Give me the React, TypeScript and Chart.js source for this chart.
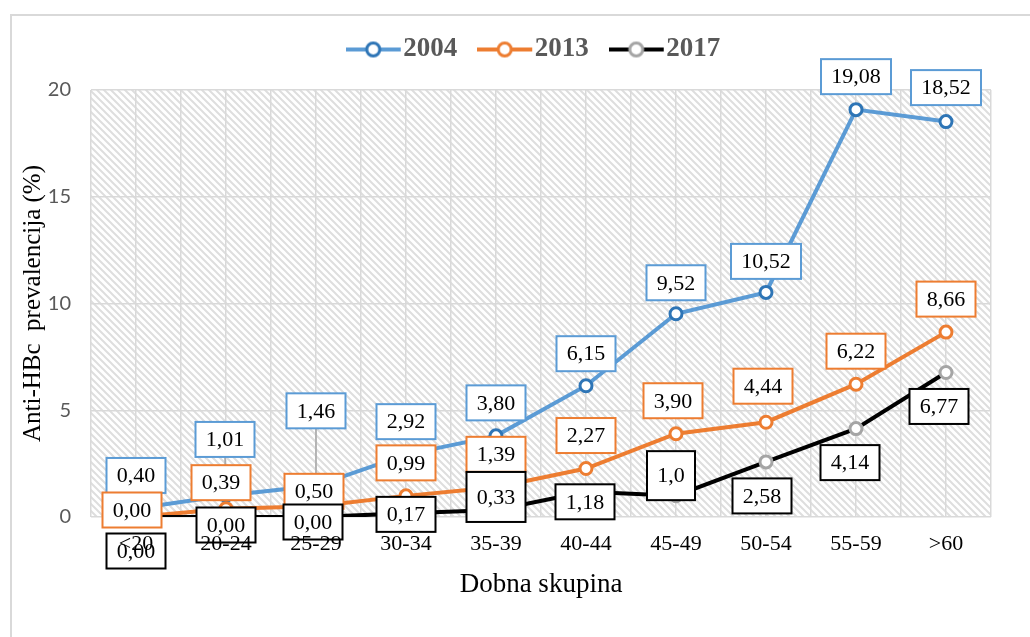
import React, { useEffect, useRef } from 'react';
import { Chart, registerables } from 'chart.js';

Chart.register(...registerables);

const SERIF = '"Liberation Serif", "Times New Roman", serif';
const SANS = 'Lato, "Noto Sans", sans-serif';

// ---- data ----
const categories = ['<20', '20-24', '25-29', '30-34', '35-39', '40-44', '45-49', '50-54', '55-59', '>60'];
const seriesNames = ['2004', '2013', '2017'];
const values2004 = [0.4, 1.01, 1.46, 2.92, 3.8, 6.15, 9.52, 10.52, 19.08, 18.52];
const values2013 = [0.0, 0.39, 0.5, 0.99, 1.39, 2.27, 3.9, 4.44, 6.22, 8.66];
const values2017 = [0.0, 0.0, 0.0, 0.17, 0.33, 1.18, 1.0, 2.58, 4.14, 6.77];
const labels2004 = ['0,40', '1,01', '1,46', '2,92', '3,80', '6,15', '9,52', '10,52', '19,08', '18,52'];
const labels2013 = ['0,00', '0,39', '0,50', '0,99', '1,39', '2,27', '3,90', '4,44', '6,22', '8,66'];
const labels2017 = ['0,00', '0,00', '0,00', '0,17', '0,33', '1,18', '1,0', '2,58', '4,14', '6,77'];
const yTickValues = [0, 5, 10, 15, 20];

// ---- label placement (pixel offsets of the label box centre from its point) ----
const dx2004 = [0, -1, 0, 0, 0, 0, 0, 0, 0, 0];
const dy2004 = [-33, -56, -75, -33, -33, -32, -31, -31, -33, -34];
const leader2004 = [false, true, true, false, false, false, false, false, false, false];
const dx2013 = [-4, -5, -2, 0, 0, 0, -3, -3, 0, 0];
const dy2013 = [-7, -26, -15, -33, -33, -33, -33, -36, -33, -33];
const dx2017 = [0, 0, -3, 0, 0, -1, -5, -4, -6, -7];
const dy2017 = [34, 8, 5, 1, -13, 10, -20, 34, 34, 34];
const boxH2017 = [35, 35, 35, 35, 50, 35, 49, 35, 35, 35];

const BLUE = '#5b9bd5';
const BLUE_DARK = '#2e75b6';
const ORANGE = '#ed7d31';
const BLACK = '#000000';
const GREY_MARK = '#a5a5a5';
const GRID = '#d9d9d9';

export default function App() {
  const ref = useRef<HTMLCanvasElement>(null);

  useEffect(() => {
    const canvas = ref.current!;

    const mkLegendImg = (line: string, marker: string) => {
      const c = document.createElement('canvas');
      c.width = 60;
      c.height = 18;
      const g = c.getContext('2d')!;
      g.strokeStyle = line;
      g.lineWidth = 4;
      g.beginPath();
      g.moveTo(0, 9);
      g.lineTo(55, 9);
      g.stroke();
      g.beginPath();
      g.arc(27.5, 9, 6.5, 0, Math.PI * 2);
      g.fillStyle = '#ffffff';
      g.fill();
      g.lineWidth = 3;
      g.strokeStyle = marker;
      g.stroke();
      return c;
    };
    const legendImgs = [mkLegendImg(BLUE, BLUE_DARK), mkLegendImg(ORANGE, ORANGE), mkLegendImg(BLACK, GREY_MARK)];

    // hatch pattern (wide downward diagonal)
    const T = 7;
    const tile = document.createElement('canvas');
    tile.width = T;
    tile.height = T;
    const tg = tile.getContext('2d')!;
    tg.fillStyle = '#ffffff';
    tg.fillRect(0, 0, T, T);
    tg.strokeStyle = '#dedede';
    tg.lineWidth = 2;
    tg.beginPath();
    tg.moveTo(-2, -2);
    tg.lineTo(T + 2, T + 2);
    tg.moveTo(-2, T - 2);
    tg.lineTo(2, T + 2);
    tg.moveTo(T - 2, -2);
    tg.lineTo(T + 2, 2);
    tg.stroke();

    const hatchPlugin = {
      id: 'hatch',
      beforeDraw(chart: any) {
        const { ctx, chartArea } = chart;
        const pat = ctx.createPattern(tile, 'repeat');
        ctx.save();
        ctx.fillStyle = pat;
        ctx.fillRect(chartArea.left, chartArea.top, chartArea.right - chartArea.left, chartArea.bottom - chartArea.top);
        ctx.restore();
      },
    };

    const labelSets = [
      { text: labels2004, dx: dx2004, dy: dy2004, leader: leader2004, border: BLUE, h: null as number[] | null },
      { text: labels2013, dx: dx2013, dy: dy2013, leader: null as boolean[] | null, border: ORANGE, h: null as number[] | null },
      { text: labels2017, dx: dx2017, dy: dy2017, leader: null as boolean[] | null, border: BLACK, h: boxH2017 },
    ];

    const labelPlugin = {
      id: 'boxLabels',
      afterDatasetsDraw(chart: any) {
        const ctx = chart.ctx as CanvasRenderingContext2D;
        ctx.save();
        ctx.font = `22px ${SERIF}`;
        ctx.textAlign = 'center';
        ctx.textBaseline = 'middle';
        labelSets.forEach((set, di) => {
          const meta = chart.getDatasetMeta(di);
          meta.data.forEach((pt: any, i: number) => {
            const x = pt.x;
            const y = pt.y;
            const cx = x + set.dx[i];
            const cy = y + set.dy[i];
            const text = set.text[i];
            const w = Math.round(ctx.measureText(text).width + 20);
            const h = set.h ? set.h[i] : 35;
            if (set.leader && set.leader[i]) {
              ctx.strokeStyle = '#a6a6a6';
              ctx.lineWidth = 1.5;
              ctx.beginPath();
              ctx.moveTo(cx, cy + h / 2);
              ctx.lineTo(x, y);
              ctx.stroke();
            }
            ctx.fillStyle = '#ffffff';
            ctx.fillRect(cx - w / 2, cy - h / 2, w, h);
            ctx.lineWidth = 2;
            ctx.strokeStyle = set.border;
            ctx.strokeRect(cx - w / 2, cy - h / 2, w, h);
            ctx.fillStyle = '#000000';
            ctx.fillText(text, cx, cy + 1);
          });
        });
        ctx.restore();
      },
    };

    const chart = new Chart(canvas, {
      type: 'line',
      data: {
        labels: categories,
        datasets: [
          {
            label: seriesNames[0],
            data: values2004,
            borderColor: BLUE,
            borderWidth: 4,
            pointRadius: 6,
            pointBorderWidth: 3,
            pointBorderColor: BLUE_DARK,
            pointBackgroundColor: '#ffffff',
            tension: 0,
            order: 2,
          },
          {
            label: seriesNames[1],
            data: values2013,
            borderColor: ORANGE,
            borderWidth: 4,
            pointRadius: 6,
            pointBorderWidth: 3,
            pointBorderColor: ORANGE,
            pointBackgroundColor: '#ffffff',
            tension: 0,
            order: 1,
          },
          {
            label: seriesNames[2],
            data: values2017,
            borderColor: BLACK,
            borderWidth: 4,
            pointRadius: 6,
            pointBorderWidth: 3,
            pointBorderColor: GREY_MARK,
            pointBackgroundColor: '#ffffff',
            tension: 0,
            order: 0,
          },
        ],
      },
      options: {
        responsive: false,
        animation: false,
        devicePixelRatio: 1,
        events: [],
        layout: { padding: { left: 0, right: 39, top: 0, bottom: 0 } },
        plugins: {
          tooltip: { enabled: false },
          legend: {
            display: true,
            position: 'top',
            fullSize: false,
            labels: {
              usePointStyle: true,
              pointStyleWidth: 28,
              padding: 36,
              color: '#595959',
              font: { family: SERIF, size: 27, weight: 'bold' },
              sort: (a: any, b: any) => a.datasetIndex - b.datasetIndex,
              generateLabels: (ch: any) =>
                (Chart.defaults.plugins.legend.labels as any)
                  .generateLabels(ch)
                  .map((l: any) => ({ ...l, pointStyle: legendImgs[l.datasetIndex] })),
            },
          },
        },
        scales: {
          x: {
            type: 'category',
            position: 'bottom',
            offset: true,
            grid: { display: true, offset: false, color: GRID, lineWidth: 1.5, drawTicks: false },
            border: { display: false },
            ticks: {
              color: '#000000',
              font: { family: SERIF, size: 22 },
              padding: 14,
              maxRotation: 0,
              autoSkip: false,
              z: 1,
            },
            title: {
              display: true,
              text: 'Dobna skupina',
              color: '#000000',
              font: { family: SERIF, size: 27 },
              padding: { top: 0, bottom: 36 },
            },
            afterFit: (s: any) => {
              s.height = 120;
            },
          },
          x2: {
            type: 'category',
            position: 'top',
            labels: categories,
            offset: true,
            grid: { display: true, offset: true, color: GRID, lineWidth: 1.5, drawTicks: false },
            border: { display: false },
            ticks: { display: false },
            afterFit: (s: any) => {
              s.height = 17;
            },
          },
          y: {
            type: 'linear',
            min: 0,
            max: 20,
            afterBuildTicks: (s: any) => {
              s.ticks = yTickValues.map((v) => ({ value: v }));
            },
            grid: { color: GRID, lineWidth: 1.5, drawTicks: false },
            border: { display: false },
            ticks: {
              color: '#595959',
              font: { family: SANS, size: 20 },
              padding: 20,
            },
            title: {
              display: true,
              text: 'Anti-HBc  prevalencija (%)',
              color: '#000000',
              font: { family: SERIF, size: 25 },
              padding: { top: 18, bottom: 0 },
            },
            afterFit: (s: any) => {
              s.width = 91;
            },
          },
        },
      } as any,
      plugins: [hatchPlugin, labelPlugin],
    });

    return () => chart.destroy();
  }, []);

  return (
    <div style={{ position: 'fixed', left: 0, top: 0, width: 1030, height: 637, overflow: 'hidden', background: '#ffffff' }}>
      <div
        style={{
          position: 'absolute',
          left: 10,
          top: 14,
          width: 1040,
          height: 650,
          border: '2px solid #d9d9d9',
          boxSizing: 'border-box',
        }}
      />
      <canvas ref={ref} width={1030} height={637} style={{ position: 'absolute', left: 0, top: 0 }} />
    </div>
  );
}
